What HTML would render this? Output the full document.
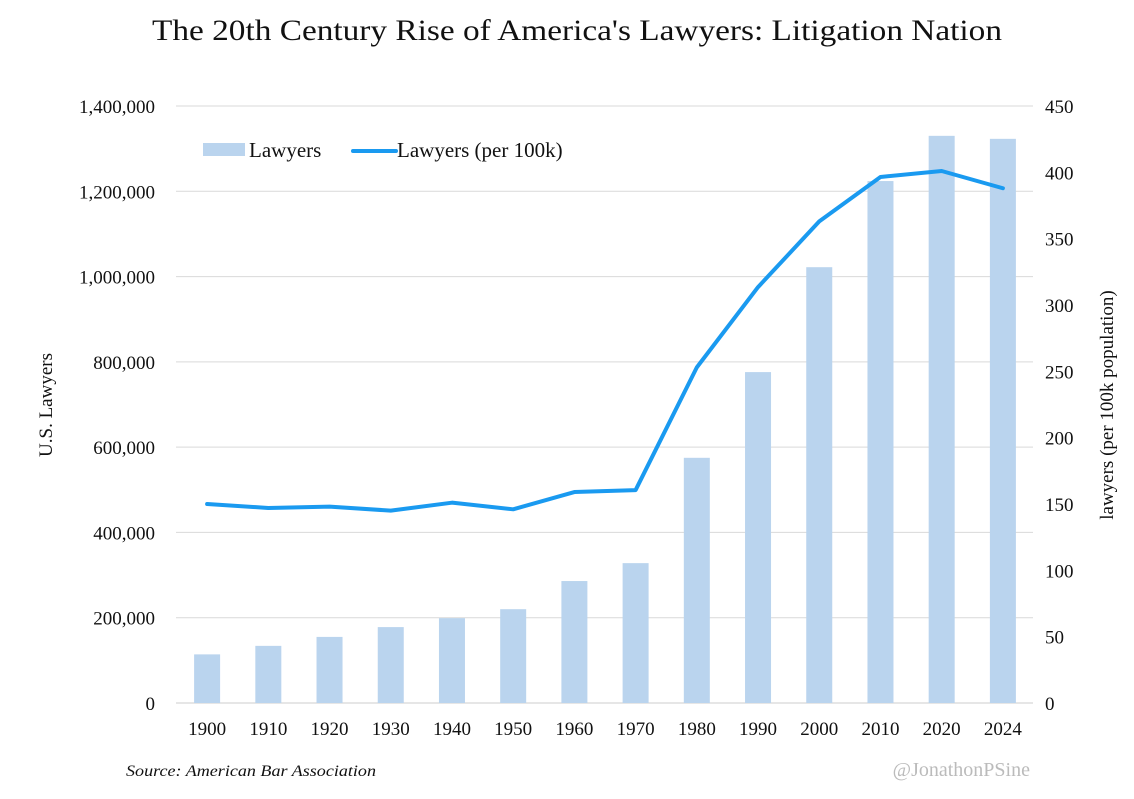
<!DOCTYPE html>
<html><head><meta charset="utf-8"><style>
body{margin:0;background:#fff;}
svg text{font-family:"Liberation Serif",serif;fill:#111;}
</style></head><body>
<svg width="1134" height="794">
<text x="152" y="40" font-size="30" textLength="850" lengthAdjust="spacingAndGlyphs">The 20th Century Rise of  America's Lawyers: Litigation Nation</text>
<g id="grid"></g><g id="bars"></g><g id="line"></g><g id="axes"></g>
<g>
<rect x="203" y="143" width="42" height="13" fill="#bad4ee"/>
<text x="249" y="157" font-size="21">Lawyers</text>
<line x1="353" y1="151" x2="396" y2="151" stroke="#1a9af0" stroke-width="4" stroke-linecap="round"/>
<text x="397" y="157" font-size="21">Lawyers (per 100k)</text>
</g>
<text transform="translate(52,405) rotate(-90)" font-size="19" text-anchor="middle">U.S. Lawyers</text>
<text transform="translate(1113,405) rotate(-90)" font-size="19" text-anchor="middle">lawyers (per 100k population)</text>
<text x="126" y="776" font-size="16" font-style="italic" textLength="250" lengthAdjust="spacingAndGlyphs">Source: American Bar Association</text>
<text x="1030" y="776" font-size="20" text-anchor="end" style="fill:#bbb">@JonathonPSine</text>
</svg>
<script>
const years=["1900","1910","1920","1930","1940","1950","1960","1970","1980","1990","2000","2010","2020","2024"];
const lawyers=[114000,134000,155000,178000,199000,220000,286000,328000,575000,776000,1022000,1224000,1330000,1323000];
const per100k=[150,147,148,145,151,146,159,160.5,253,313.5,363,396.5,401,388];
const leftTicks=[0,200000,400000,600000,800000,1000000,1200000,1400000];
const rightTicks=[0,50,100,150,200,250,300,350,400,450];
const NS="http://www.w3.org/2000/svg";
const x0=176,x1=1033,yb=703,yt=106;
const yL=v=>yb-(yb-yt)*v/1400000;
const yR=v=>yb-(yb-yt)*v/450;
const step=(x1-x0)/years.length;
const xC=i=>x0+step*(i+0.5)+0.5;
function mk(t,a,p){const e=document.createElementNS(NS,t);for(const k in a)e.setAttribute(k,a[k]);p.appendChild(e);return e;}
const g=document.getElementById('grid'),b=document.getElementById('bars'),l=document.getElementById('line'),ax=document.getElementById('axes');
leftTicks.forEach(v=>{
 const ln=mk('line',{x1:x0,x2:x1,y1:yL(v),y2:yL(v),stroke:v===0?'#ccc':'#d9d9d9','stroke-width':1},g);
 
 
 const t=mk('text',{x:155,y:yL(v)+7,'font-size':19,'text-anchor':'end'},ax);
 t.textContent=v.toLocaleString('en-US');
 
 
});
rightTicks.forEach(v=>{
 const t=mk('text',{x:1045,y:yR(v)+7,'font-size':19},ax);
 t.textContent=v;
 
 
});
years.forEach((y,i)=>{
 const r=mk('rect',{x:xC(i)-13,y:yL(lawyers[i]),width:26,height:yb-yL(lawyers[i]),fill:'#bad4ee'},b);
 
 
 const t=mk('text',{x:xC(i),y:735,'font-size':19,'text-anchor':'middle'},ax);
 t.textContent=y;
 
 
});
const pl=mk('polyline',{points:per100k.map((v,i)=>xC(i)+','+yR(v)).join(' '),fill:'none',stroke:'#1a9af0','stroke-width':4,'stroke-linejoin':'round','stroke-linecap':'round'},l);


</script>
</body></html>
